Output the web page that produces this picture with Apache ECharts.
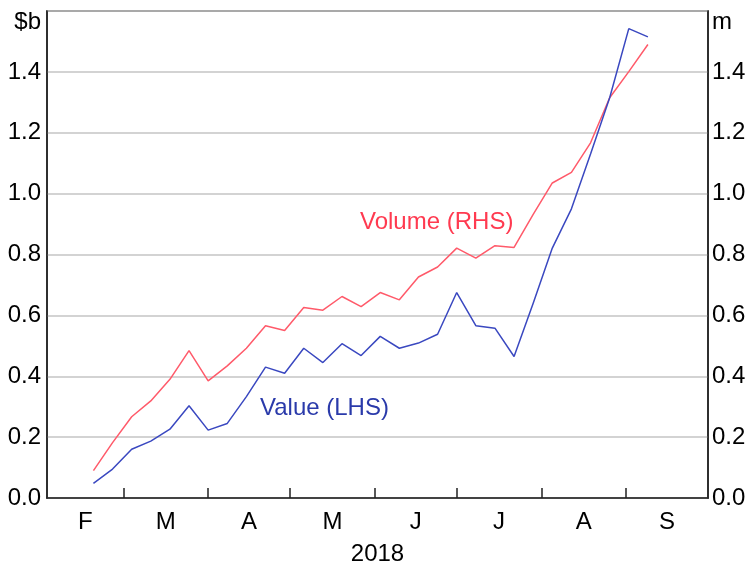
<!DOCTYPE html>
<html>
<head>
<meta charset="utf-8">
<script src="https://cdn.jsdelivr.net/npm/echarts@6/dist/echarts.min.js"></script>
<style>
  html, body { margin: 0; padding: 0; background: #fff; }
  #main { width: 746px; height: 566px; }
</style>
</head>
<body>
<div id="main"></div>
<script>
// weekly observations, 2018
const weeks = [
  '2018-02-18', '2018-02-25', '2018-03-04', '2018-03-11', '2018-03-18', '2018-03-25',
  '2018-04-01', '2018-04-08', '2018-04-15', '2018-04-22', '2018-04-29', '2018-05-06',
  '2018-05-13', '2018-05-20', '2018-05-27', '2018-06-03', '2018-06-10', '2018-06-17',
  '2018-06-24', '2018-07-01', '2018-07-08', '2018-07-15', '2018-07-22', '2018-07-29',
  '2018-08-05', '2018-08-12', '2018-08-19', '2018-08-26', '2018-09-02', '2018-09-09'
];
// $b, left axis
const valueLHS = [
  0.048, 0.095, 0.160, 0.187, 0.226, 0.303, 0.223, 0.245, 0.333, 0.430,
  0.410, 0.492, 0.445, 0.507, 0.468, 0.531, 0.492, 0.509, 0.538, 0.675,
  0.566, 0.558, 0.465, 0.640, 0.821, 0.950, 1.130, 1.315, 1.542, 1.515
];
// millions, right axis
const volumeRHS = [
  0.090, 0.182, 0.267, 0.319, 0.390, 0.484, 0.385, 0.434, 0.492, 0.566,
  0.550, 0.626, 0.617, 0.662, 0.629, 0.675, 0.651, 0.726, 0.759, 0.821,
  0.788, 0.829, 0.823, 0.932, 1.035, 1.070, 1.167, 1.315, 1.401, 1.490
];
const monthLetters = ['F', 'M', 'A', 'M', 'J', 'J', 'A', 'S'];
const monthStarts = ['2018-02-01', '2018-03-01', '2018-04-01', '2018-05-01', '2018-06-01',
  '2018-07-01', '2018-08-01', '2018-09-01', '2018-10-01'];
const yTicks = [0, 0.2, 0.4, 0.6, 0.8, 1.0, 1.2, 1.4];

// x is measured in days from 1 Feb
const base = Date.UTC(2018, 1, 1);
const toDay = (s) => {
  const p = s.split('-');
  return (Date.UTC(+p[0], +p[1] - 1, +p[2]) - base) / 86400000;
};
const startDays = monthStarts.map(toDay);
const midDays = monthLetters.map((m, i) => (startDays[i] + startDays[i + 1]) / 2);

const FONT = 'Liberation Sans, Arial, sans-serif';
const FS = 24;
const chart = echarts.init(document.getElementById('main'));

const yAxisBase = (pos, name) => ({
  type: 'value',
  position: pos,
  min: 0,
  max: 1.6,
  interval: 0.2,
  name: name,
  nameLocation: 'end',
  nameGap: -11,
  nameTextStyle: {
    color: '#000', fontFamily: FONT, fontSize: FS,
    align: pos === 'left' ? 'right' : 'left',
    verticalAlign: 'middle',
    padding: pos === 'left' ? [0, 6, 0, 0] : [0, 0, 0, 4]
  },
  axisLine: { show: true, lineStyle: { color: '#222', width: 1.5 } },
  axisTick: { show: false },
  splitLine: { show: pos === 'left', lineStyle: { color: '#c4c4c4', width: 1.5 } },
  axisLabel: {
    color: '#000', fontFamily: FONT, fontSize: FS,
    margin: pos === 'left' ? 6 : 4,
    formatter: (v) => (yTicks.some(t => Math.abs(t - v) < 1e-6) ? v.toFixed(1) : '')
  }
});

const option = {
  animation: false,
  grid: {
    left: 47, right: 38, top: 11, bottom: 68,
    outerBoundsMode: 'none',
    show: true, borderColor: '#222', borderWidth: 1.5, backgroundColor: 'transparent'
  },
  xAxis: {
    type: 'value',
    min: 0,
    max: startDays[startDays.length - 1],
    name: '2018',
    nameLocation: 'middle',
    nameGap: 44,
    nameMoveOverlap: false,
    nameTextStyle: { color: '#000', fontFamily: FONT, fontSize: FS },
    axisLine: { show: true, lineStyle: { color: '#222', width: 1.5 } },
    axisTick: {
      show: true, inside: true, length: 10,
      customValues: startDays.slice(1, -1),
      lineStyle: { color: '#222', width: 1.5 }
    },
    axisLabel: {
      color: '#000', fontFamily: FONT, fontSize: FS, margin: 12,
      customValues: midDays,
      formatter: (v) => {
        const i = midDays.findIndex(d => Math.abs(d - v) < 1e-6);
        return i >= 0 ? monthLetters[i] : '';
      }
    },
    splitLine: { show: false }
  },
  yAxis: [yAxisBase('left', '$b'), yAxisBase('right', 'm')],
  series: [
    {
      name: 'Volume (RHS)',
      type: 'line',
      yAxisIndex: 1,
      symbol: 'none',
      lineStyle: { color: '#ff5a6a', width: 1.5 },
      data: weeks.map((d, i) => [toDay(d), volumeRHS[i]])
    },
    {
      name: 'Value (LHS)',
      type: 'line',
      yAxisIndex: 0,
      symbol: 'none',
      lineStyle: { color: '#3a48c0', width: 1.5 },
      data: weeks.map((d, i) => [toDay(d), valueLHS[i]])
    }
  ],
  graphic: [
    {
      type: 'text', left: 360, top: 210,
      style: { text: 'Volume (RHS)', fill: '#ff3a50', font: FS + 'px ' + FONT }
    },
    {
      type: 'text', left: 260, top: 396,
      style: { text: 'Value (LHS)', fill: '#2a3aaa', font: FS + 'px ' + FONT }
    }
  ]
};

chart.setOption(option);
</script>
</body>
</html>
